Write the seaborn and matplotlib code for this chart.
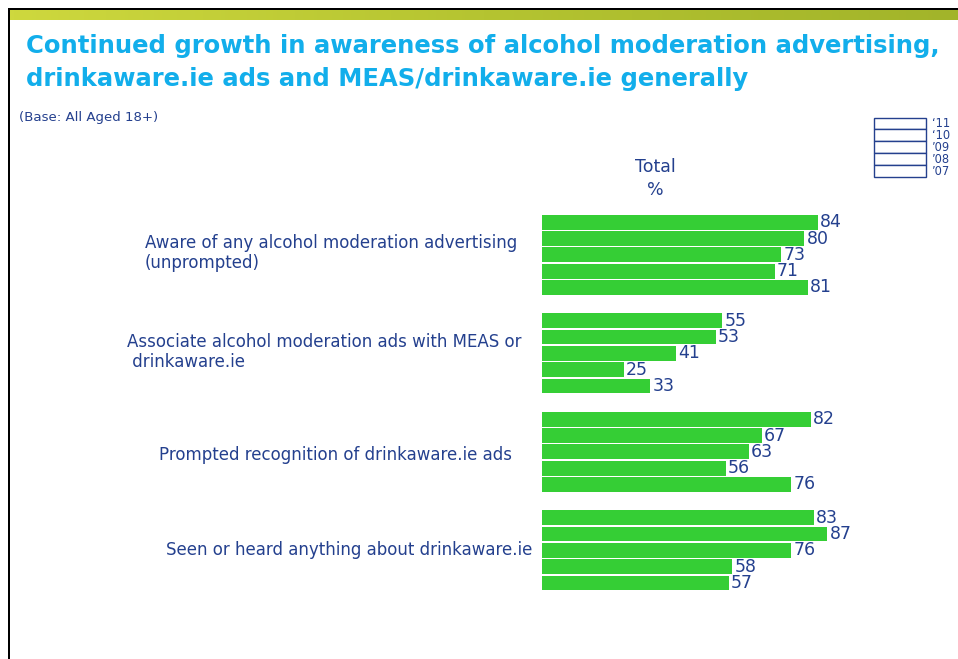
import numpy as np
import pandas as pd
import matplotlib
matplotlib.use("Agg")
import matplotlib.pyplot as plt
from matplotlib.patches import Rectangle
import seaborn as sns

# ---------------- data ----------------
categories = [
    "Aware of any alcohol moderation advertising\n(unprompted)",
    "Associate alcohol moderation ads with MEAS or\n drinkaware.ie",
    "Prompted recognition of drinkaware.ie ads",
    "Seen or heard anything about drinkaware.ie",
]
years = ["2011", "2010", "2009", "2008", "2007"]
year_labels = ["\u201811", "\u201810", "\u201909", "\u201908", "\u201907"]
values_2011 = [84, 55, 82, 83]
values_2010 = [80, 53, 67, 87]
values_2009 = [73, 41, 63, 76]
values_2008 = [71, 25, 56, 58]
values_2007 = [81, 33, 76, 57]
title_lines = ["Continued growth in awareness of alcohol moderation advertising,",
               "drinkaware.ie ads and MEAS/drinkaware.ie generally"]
base_text = "(Base: All Aged 18+)"
column_header = ["Total", "%"]

series = [values_2011, values_2010, values_2009, values_2008, values_2007]
rows = []
for yr, vals in zip(years, series):
    for cat, v in zip(categories, vals):
        rows.append({"category": cat, "year": yr, "value": v})
df = pd.DataFrame(rows)

# ---------------- style ----------------
W, H = 958, 659
GREEN = "#35CE35"
NAVY = "#24408E"
TITLE_BLUE = "#12AEEB"

sns.set_theme(style="white")
plt.rcParams["font.family"] = ["DejaVu Sans"]

fig = plt.figure(figsize=(W / 100, H / 100), dpi=100)
fig.patch.set_facecolor("white")

def fx(px):
    return px / W

def fy(py):
    return 1 - py / H

# frame: gradient bar, black border lines
grad_ax = fig.add_axes([fx(10), fy(20), fx(W - 10), (10) / H])
grad = np.linspace(0, 1, 256).reshape(1, -1)
cmap = matplotlib.colors.LinearSegmentedColormap.from_list("g", ["#CED83E", "#B5C431", "#A2B42A"])
grad_ax.imshow(grad, aspect="auto", cmap=cmap, extent=[0, 1, 0, 1])
grad_ax.set_axis_off()
fig.add_artist(Rectangle((fx(8), fy(10)), fx(W), 2 / H, transform=fig.transFigure,
                         facecolor="black", edgecolor="none"))
fig.add_artist(Rectangle((fx(8), 0), 2 / W, fy(8), transform=fig.transFigure,
                         facecolor="black", edgecolor="none"))

# title (two lines)
for line, base_y in zip(title_lines, [53, 86]):
    fig.text(fx(26), fy(base_y), line, color=TITLE_BLUE, fontsize=17.5, fontweight="bold",
             ha="left", va="baseline")
fig.text(fx(19), fy(118), base_text, color=NAVY, fontsize=9.6, ha="left", va="center")

# main bar axes
top_px, bot_px = 205.6, 599.6
left_px, right_px = 542, 542 + 328
ax = fig.add_axes([fx(left_px), fy(bot_px), fx(right_px - left_px), (bot_px - top_px) / H])
sns.barplot(data=df, y="category", x="value", hue="year", hue_order=years, order=categories,
            palette=[GREEN] * len(years), orient="h", width=0.827, gap=0.09,
            legend=False, ax=ax, saturation=1, edgecolor="none", linewidth=0)
ax.set_xlim(0, 100)
ax.set_ylim(len(categories) - 0.5, -0.5)
ax.set_axis_off()
for cont in ax.containers:
    labels = ax.bar_label(cont, fmt="%d", padding=1.5, color=NAVY, fontsize=12.5)
    for t in labels:
        t.set_y(t.get_position()[1])
        t.set_transform(t.get_transform() + matplotlib.transforms.ScaledTranslation(0, -1.5 / 100, fig.dpi_scale_trans))

# category labels (left, multi-line left aligned)
label_x = [145, 127, 159, 166]
label_dy = [-0.015, -0.01, 0.035, 0.0]
trans = matplotlib.transforms.blended_transform_factory(fig.transFigure, ax.transData)
for i, (cat, xpx, dy) in enumerate(zip(categories, label_x, label_dy)):
    ax.text(fx(xpx), i + dy, cat, transform=trans,
            color=NAVY, fontsize=12, ha="left", va="center", linespacing=1.15)

# column header
for txt, cy in zip(column_header, [167, 190]):
    fig.text(fx(655), fy(cy), txt, color=NAVY, fontsize=12.5, ha="center", va="center")

# legend (empty boxes)
box_top = 117.5
box_h = 11.8
for k, lab in enumerate(year_labels):
    y0 = box_top + k * box_h
    fig.add_artist(Rectangle((fx(874), fy(y0 + box_h)), 51.5 / W, box_h / H,
                             transform=fig.transFigure, facecolor="white",
                             edgecolor=NAVY, linewidth=1.0))
    fig.text(fx(932), fy(y0 + box_h / 2 + 0.5), lab, color=NAVY, fontsize=8.3,
             ha="left", va="center")

fig.savefig("out.png", dpi=100, facecolor="white")
